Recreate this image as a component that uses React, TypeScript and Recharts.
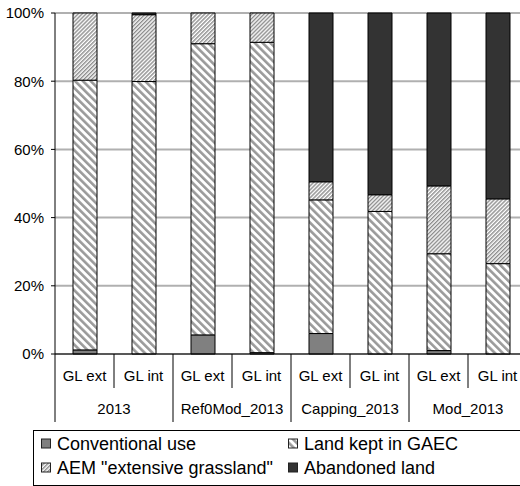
import { Bar, BarChart, CartesianGrid, Legend, XAxis, YAxis } from 'recharts'

const groups = ['2013', 'Ref0Mod_2013', 'Capping_2013', 'Mod_2013']
const subCategories = ['GL ext', 'GL int', 'GL ext', 'GL int', 'GL ext', 'GL int', 'GL ext', 'GL int']
const conventionalUse = [1.2, 0, 5.6, 0.4, 6.0, 0, 1.0, 0]
const landKeptInGaec = [79.1, 79.9, 85.4, 91.0, 39.2, 41.8, 28.4, 26.5]
const aemExtensive = [19.7, 19.6, 9.0, 8.6, 5.3, 4.9, 19.9, 19.0]
const abandonedLand = [0, 0.5, 0, 0, 49.5, 53.3, 50.7, 54.5]
const yTicks = [0, 20, 40, 60, 80, 100]
const legendOrder = ['Conventional use', 'Land kept in GAEC', 'AEM "extensive grassland"', 'Abandoned land']

const data = subCategories.map((sub, i) => ({
  key: `${groups[Math.floor(i / 2)]}-${sub}`,
  sub,
  group: groups[Math.floor(i / 2)],
  conventional: conventionalUse[i],
  gaec: landKeptInGaec[i],
  aem: aemExtensive[i],
  abandoned: abandonedLand[i],
}))

const FONT = '"Liberation Sans", Arial, sans-serif'
const BAND = 59

function CategoryTick(props: any) {
  const { x, y, index } = props
  const right = x + BAND / 2
  const groupEnd = index % 2 === 1
  return (
    <g>
      <text x={x} y={y + 27} textAnchor='middle' fontSize={15} fill='#000' fontFamily={FONT}>
        {data[index].sub}
      </text>
      <line x1={right} x2={right} y1={y} y2={y + (groupEnd ? 68 : 34)} stroke='#000' />
      {index === 0 && <line x1={x - BAND / 2} x2={x - BAND / 2} y1={y} y2={y + 68} stroke='#000' />}
      {index % 2 === 0 && (
        <text x={right} y={y + 60} textAnchor='middle' fontSize={15} fill='#000' fontFamily={FONT}>
          {data[index].group}
        </text>
      )}
    </g>
  )
}

function LegendBox({ payload }: any) {
  const items = legendOrder
    .map((name) => (payload ?? []).find((p: any) => p.value === name))
    .filter(Boolean)
  return (
    <svg width={495} height={56} style={{ display: 'block' }}>
      <rect x={0.5} y={0.5} width={494} height={55} fill='#fff' stroke='#000' />
      {items.map((item: any, i: number) => {
        const col = i % 2
        const row = Math.floor(i / 2)
        const sx = col === 0 ? 8 : 255
        const cy = row === 0 ? 13 : 37
        return (
          <g key={item.value}>
            <rect x={sx + 0.5} y={cy - 4} width={9} height={9} fill={item.color} stroke='#222' />
            <text x={sx + 16} y={cy + 6.5} fontSize={18} fill='#000' fontFamily={FONT}>
              {item.value}
            </text>
          </g>
        )
      })}
    </svg>
  )
}

export default function App() {
  return (
    <div style={{ position: 'fixed', left: 0, top: 0, width: 520, height: 486, overflow: 'hidden', background: '#fff' }}>
      <BarChart
        width={530}
        height={486}
        data={data}
        margin={{ top: 13, right: 3, bottom: 0, left: 0 }}
        barSize={24}
        style={{ fontFamily: FONT }}
      >
        <defs>
          <pattern id='gaecPattern' patternUnits='userSpaceOnUse' width={5.5} height={5.5} patternTransform='rotate(-45)'>
            <rect width={5.5} height={5.5} fill='#fff' />
            <rect width={2.6} height={5.5} fill='#9a9a9a' />
          </pattern>
          <pattern id='aemPattern' patternUnits='userSpaceOnUse' width={2.8} height={2.8} patternTransform='rotate(45)'>
            <rect width={2.8} height={2.8} fill='#fff' />
            <rect width={1.4} height={2.8} fill='#8c8c8c' />
          </pattern>
        </defs>
        <CartesianGrid vertical={false} stroke='#b0b0b0' strokeWidth={2} />
        <XAxis
          dataKey='key'
          height={132}
          interval={0}
          tickSize={0}
          tickMargin={0}
          tickLine={false}
          axisLine={{ stroke: '#000' }}
          tick={<CategoryTick />}
        />
        <YAxis
          width={55}
          domain={[0, 100]}
          ticks={yTicks}
          tickFormatter={(v) => `${v}%`}
          tickSize={4}
          tickMargin={7}
          tickLine={{ stroke: '#000' }}
          axisLine={{ stroke: '#000' }}
          tick={{ fill: '#000', fontSize: 15, fontFamily: FONT }}
        />
        <Legend
          layout='horizontal'
          verticalAlign='middle'
          align='center'
          content={<LegendBox />}
          wrapperStyle={{ position: 'absolute', left: 33, top: 430, width: 495, height: 56 }}
        />
        <Bar dataKey='conventional' name='Conventional use' stackId='a' fill='#808080' stroke='#000' isAnimationActive={false} />
        <Bar dataKey='gaec' name='Land kept in GAEC' stackId='a' fill='url(#gaecPattern)' stroke='#000' isAnimationActive={false} />
        <Bar dataKey='aem' name='AEM "extensive grassland"' stackId='a' fill='url(#aemPattern)' stroke='#000' isAnimationActive={false} />
        <Bar dataKey='abandoned' name='Abandoned land' stackId='a' fill='#333333' stroke='#000' isAnimationActive={false} />
      </BarChart>
    </div>
  )
}
